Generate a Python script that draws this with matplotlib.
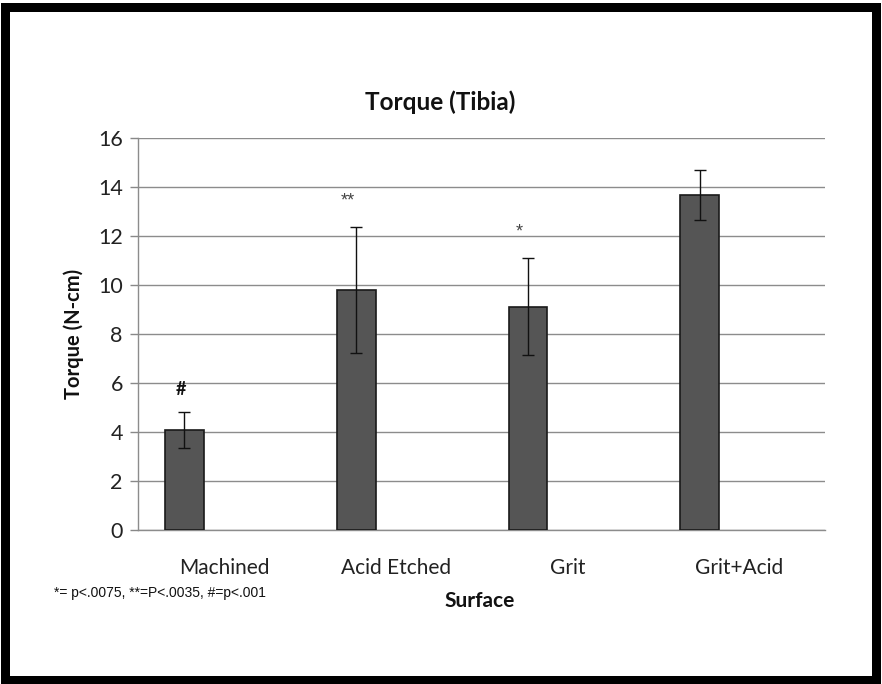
import matplotlib
matplotlib.use("Agg")
import matplotlib.pyplot as plt
from matplotlib.patches import Rectangle

categories = ["Machined", "Acid Etched", "Grit", "Grit+Acid"]
torque = [4.08, 9.80, 9.12, 13.67]
errors = [0.75, 2.57, 1.98, 1.02]
marks = ["#", "**", "*", ""]
yticks = [0, 2, 4, 6, 8, 10, 12, 14, 16]
footnote = "*= p<.0075, **=P<.0035, #=p<.001"

plt.rcParams['font.family'] = ['Lato', 'DejaVu Sans']

fig = plt.figure(figsize=(8.82, 6.84), dpi=100)
fig.patch.set_facecolor('white')
ax = fig.add_axes([0.1565, 0.2251, 0.779, 0.5731])

x = list(range(len(categories)))
bx = [i - 0.23 for i in x]
ax.bar(bx, torque, width=0.225, color='#555555', edgecolor='#1a1a1a', linewidth=1.2, zorder=3)
ax.errorbar(bx, torque, yerr=errors, fmt='none', ecolor='#111111', elinewidth=1.0,
            capsize=4, capthick=1.0, zorder=4)

for xi, v, e, m in zip(bx, torque, errors, marks):
    if not m:
        continue
    if m == "#":
        ax.annotate(m, (xi - 0.02, v + e), xytext=(0, 16), textcoords='offset points',
                    ha='center', va='center', fontsize=13, fontweight='bold', color='#111111')
    else:
        ax.annotate(m, (xi - 0.05, v + e), xytext=(0, 19), textcoords='offset points',
                    ha='center', va='center', fontsize=13, color='#444444',
                    family='Liberation Sans')

ax.set_xlim(-0.5, len(categories) - 0.5)
ax.set_ylim(0, 16)
ax.set_yticks(yticks)
ax.set_yticklabels([str(t) for t in yticks], fontsize=15.5, color='#222222')
ax.set_xticks(x)
ax.set_xticklabels(categories, fontsize=15, color='#222222')
ax.tick_params(axis='x', length=0, pad=20)
ax.tick_params(axis='y', length=6, width=1, color='#888888', pad=5, direction='out')
ax.yaxis.grid(True, color='#8c8c8c', linewidth=1.0, zorder=0)
ax.set_axisbelow(True)
for s in ['top', 'right']:
    ax.spines[s].set_visible(False)
for s in ['left', 'bottom']:
    ax.spines[s].set_color('#8c8c8c')
    ax.spines[s].set_linewidth(1.0)

fig.text(440 / 882, 1 - 102 / 684, "Torque (Tibia)", ha='center', va='center',
         fontsize=17.5, fontweight='bold', color='#111111')
fig.text(74 / 882, 1 - 334 / 684, "Torque (N-cm)", ha='center', va='center',
         rotation=90, fontsize=14.5, fontweight='bold', color='#111111')
fig.text(480 / 882, 1 - 601 / 684, "Surface", ha='center', va='center',
         fontsize=15, fontweight='bold', color='#111111')
fig.text(54 / 882, 1 - 593 / 684, footnote, ha='left', va='center',
         fontsize=10, color='#111111', family='Liberation Sans')

# thick black frame around the figure
fig.patches.append(Rectangle((4.5 / 882, 4.5 / 684), 1 - 11 / 882, 1 - 11 / 684,
                             transform=fig.transFigure, fill=False,
                             edgecolor='black', linewidth=9 * 72 / 100))

fig.savefig("out.png", dpi=100, facecolor='white')
